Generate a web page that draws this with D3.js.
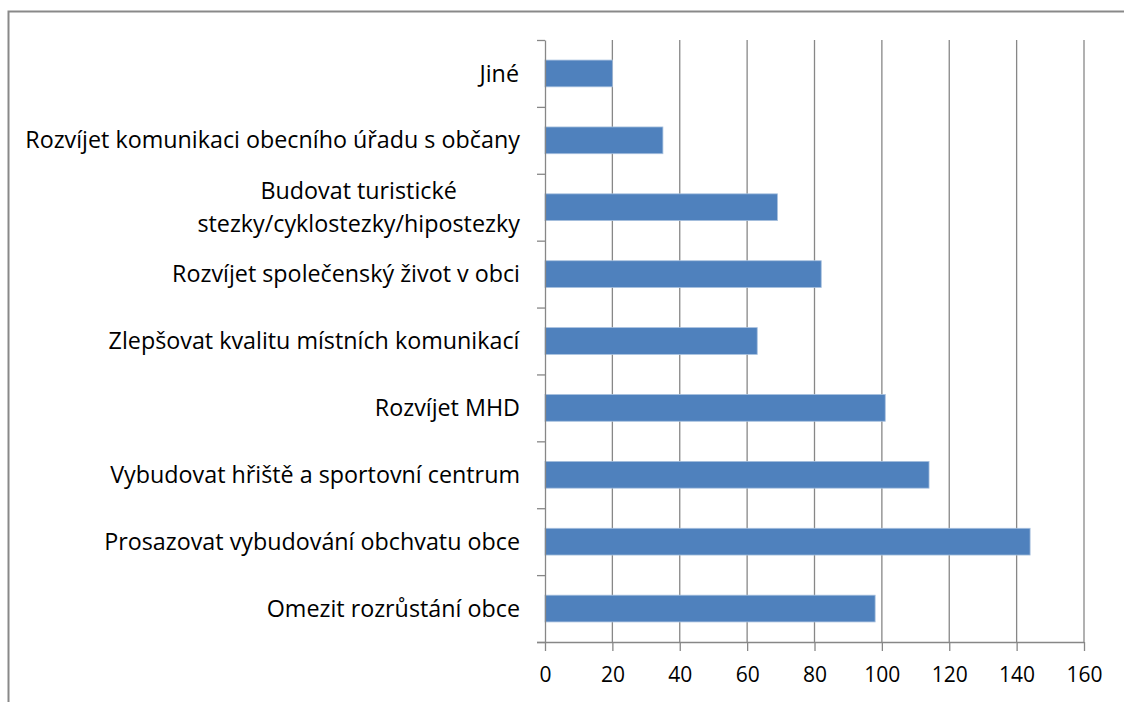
<!DOCTYPE html>
<html>
<head>
<meta charset="utf-8">
<script src="https://cdn.jsdelivr.net/npm/d3@7"></script>
<style>
  body { margin: 0; background: #fff; }
  text { font-family: "Open Sans", Lato, sans-serif; fill: #000; }
</style>
</head>
<body>
<svg id="chart" width="1124" height="702"></svg>
<script>
const categories = [
  "Jiné",
  "Rozvíjet komunikaci obecního úřadu s občany",
  "Budovat turistické|stezky/cyklostezky/hipostezky",
  "Rozvíjet společenský život v obci",
  "Zlepšovat kvalitu místních komunikací",
  "Rozvíjet MHD",
  "Vybudovat hřiště a sportovní centrum",
  "Prosazovat vybudování obchvatu obce",
  "Omezit rozrůstání obce"
];
const values = [20, 35, 69, 82, 63, 101, 114, 144, 98];
const xTicks = [0, 20, 40, 60, 80, 100, 120, 140, 160];

const svg = d3.select("#chart");
const margin = { top: 40, left: 545, right: 40, bottom: 60 };
const plotW = 1084 - margin.left;
const plotH = 642 - margin.top;

// outer chart frame (runs off the right and bottom edge)
svg.append("rect")
  .attr("x", 8.5).attr("y", 11.5)
  .attr("width", 1200).attr("height", 800)
  .attr("fill", "none")
  .attr("stroke", "#898989")
  .attr("stroke-width", 2);

const g = svg.append("g").attr("transform", `translate(${margin.left},${margin.top})`);

const x = d3.scaleLinear().domain([0, 160]).range([0, plotW]);
const y = d3.scaleBand().domain(categories).range([0, plotH]).paddingInner(0.6).paddingOuter(0.3);
const yIdx = d3.scaleLinear().domain([0, categories.length]).range([0, plotH]);

// vertical gridlines
g.append("g").selectAll("line")
  .data(xTicks.slice(1))
  .join("line")
  .attr("x1", d => x(d)).attr("x2", d => x(d))
  .attr("y1", 0).attr("y2", plotH)
  .attr("stroke", "#878787")
  .attr("stroke-width", 1.3);

// bars
g.append("g").selectAll("rect")
  .data(values)
  .join("rect")
  .attr("x", 0)
  .attr("y", (d, i) => y(categories[i]))
  .attr("width", d => x(d))
  .attr("height", y.bandwidth())
  .attr("fill", "#4f81bd")
  .attr("stroke", "#a7c0de")
  .attr("stroke-width", 0.8);

// bottom axis
const xAxis = g.append("g")
  .attr("transform", `translate(0,${plotH})`)
  .call(d3.axisBottom(x).tickValues(xTicks).tickSize(9).tickSizeOuter(0).tickPadding(16));
xAxis.select(".domain").attr("stroke", "#878787").attr("stroke-width", 1.3)
  .attr("d", `M-8,0.5H${plotW}`);
xAxis.selectAll(".tick line").attr("stroke", "#878787").attr("stroke-width", 1.3);
xAxis.selectAll(".tick text")
  .style("font-family", "'Open Sans', sans-serif")
  .attr("font-size", 21)
  .attr("fill", "#000");

// left axis with ticks at category boundaries
const yAxis = g.append("g")
  .call(d3.axisLeft(yIdx).tickValues(d3.range(categories.length + 1)).tickSize(8).tickSizeOuter(0).tickFormat(""));
yAxis.select(".domain").attr("stroke", "#878787").attr("stroke-width", 1.3);
yAxis.selectAll(".tick line").attr("stroke", "#878787").attr("stroke-width", 1.3);

// category labels
const labels = g.append("g").selectAll("text")
  .data(categories)
  .join("text")
  .attr("font-size", 23.3)
  .attr("text-anchor", "middle")
  .attr("y", d => y(d) + y.bandwidth() / 2);

labels.each(function (d) {
  const lines = d.split("|");
  const t = d3.select(this);
  const lh = 33;
  lines.forEach((ln, i) => {
    t.append("tspan")
      .attr("x", 0)
      .attr("dy", i === 0 ? "0.35em" : lh)
      .text(ln);
  });
  // right-align the block, centre the lines within it
  const w = this.getBBox().width;
  t.selectAll("tspan").attr("x", -25 - w / 2);
  if (lines.length > 1) {
    t.attr("transform", `translate(0,${-lh / 2 * (lines.length - 1)})`);
  }
});
</script>
</body>
</html>
